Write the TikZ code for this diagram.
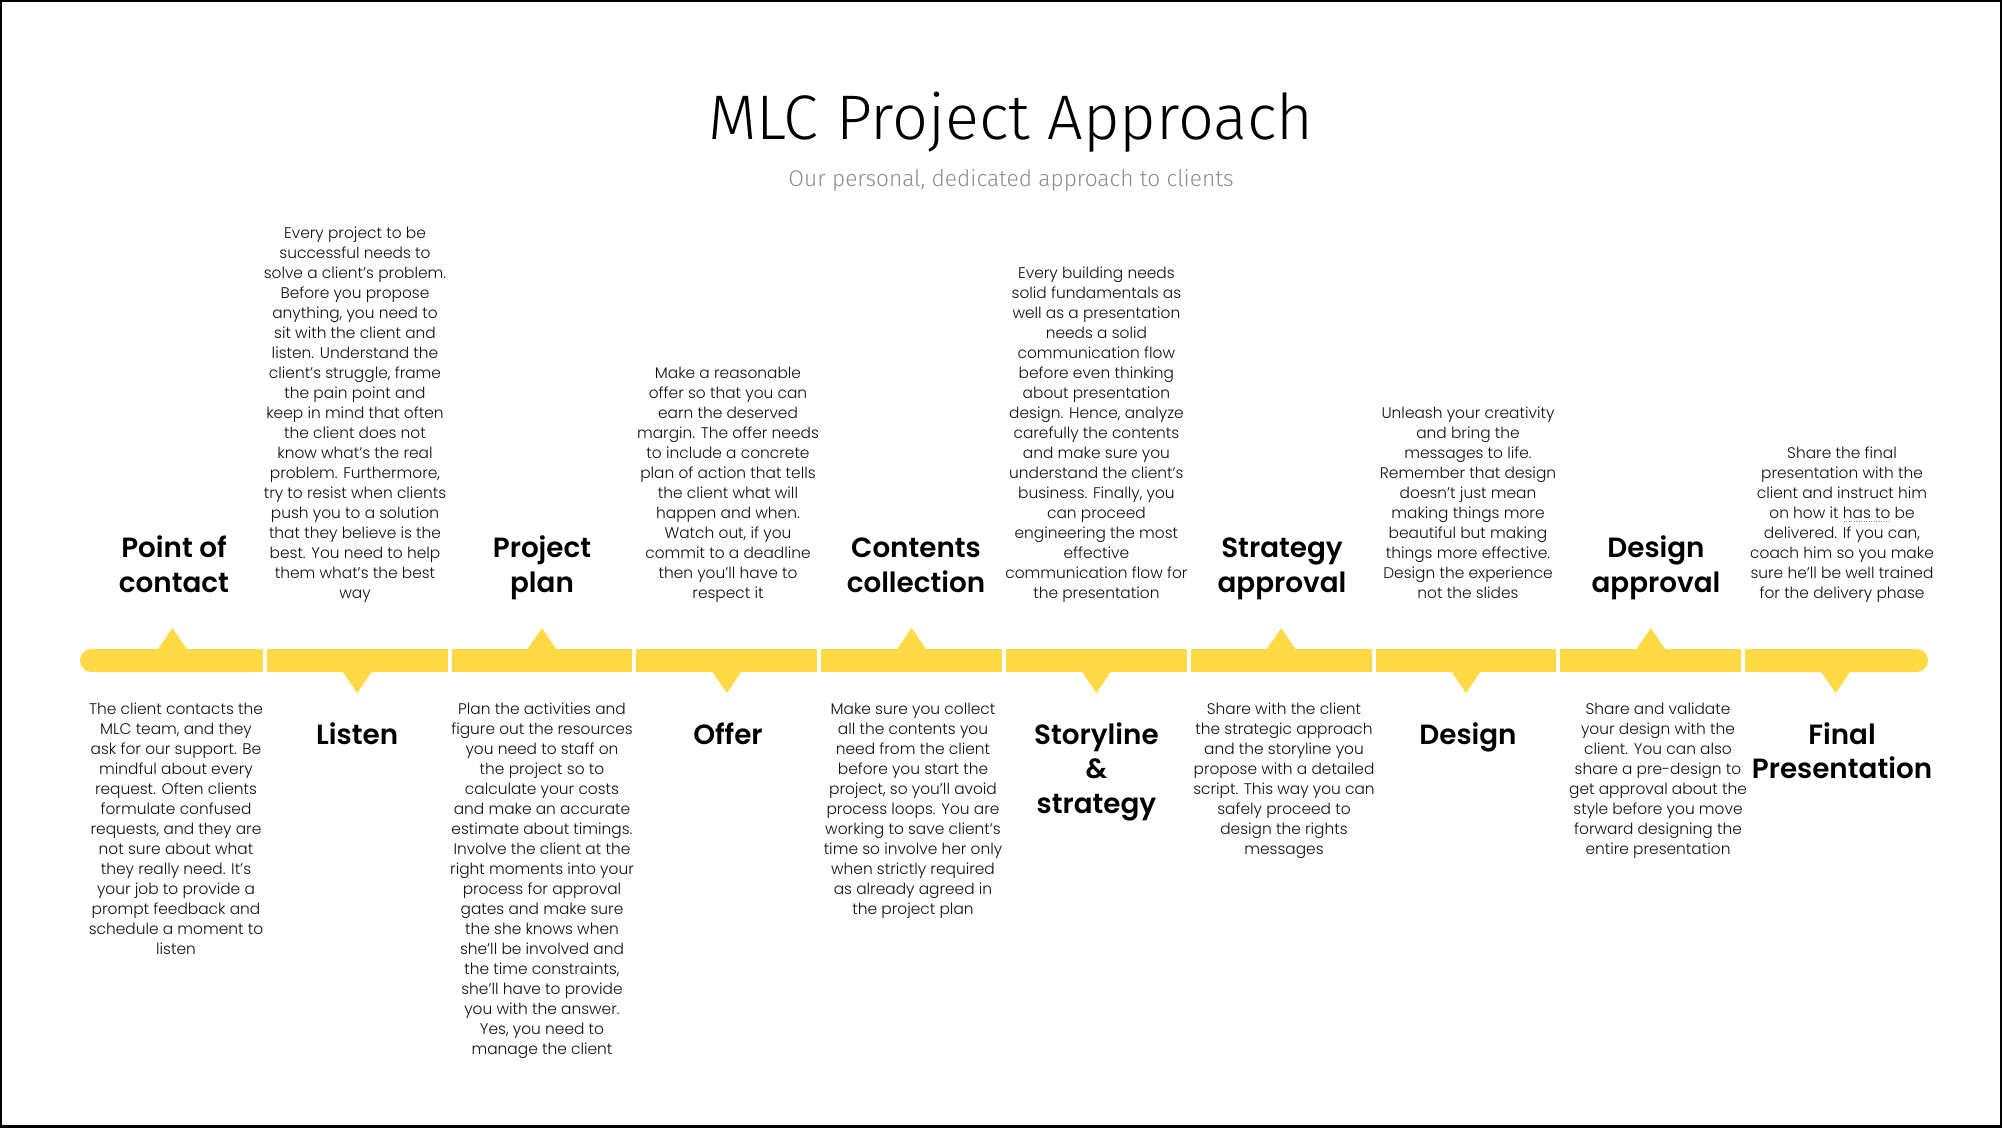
\documentclass[tikz,border=0pt]{standalone}
\usepackage{fontspec}
\usepackage{tikz}

\IfFontExistsTF{Poppins Light}{\newfontfamily\bodyfont{Poppins Light}}{\newfontfamily\bodyfont{Poppins}}
\IfFontExistsTF{Poppins SemiBold}{\newfontfamily\headfont{Poppins SemiBold}}{\newfontfamily\headfont{Poppins}[UprightFont=*,UprightFeatures={FakeBold=1.5}]}
\IfFontExistsTF{Fira Sans Light}{\newfontfamily\titlefont{Fira Sans Light}}{\IfFontExistsTF{Lato Light}{\newfontfamily\titlefont{Lato Light}}{\newfontfamily\titlefont{Fira Sans}}}

\definecolor{barYellow}{HTML}{FFDA45}
\definecolor{subGray}{HTML}{8C8C8C}
\definecolor{bodyGray}{HTML}{111111}

% dotted underline
\newcommand\dotsunder[1]{\setbox0=\hbox{#1}\rlap{\color{subGray}\xleaders\hbox to 2.5pt{\hss\rule[-3pt]{1pt}{1pt}\hss}\hskip\wd0}\copy0\relax}

\begin{document}
\begin{tikzpicture}[x=1pt,y=-1pt,
  bar/.style={fill=barYellow},
  headup/.style={font=\headfont\fontsize{27.8}{34.5}\selectfont,align=center,inner sep=0pt,anchor=south},
  headdown/.style={font=\headfont\fontsize{27.8}{34.5}\selectfont,align=center,inner sep=0pt,anchor=north},
  textup/.style={font=\bodyfont\fontsize{15.4}{20}\selectfont,text=bodyGray,align=center,inner sep=0pt,anchor=south},
  textdown/.style={font=\bodyfont\fontsize{15.4}{20}\selectfont,text=bodyGray,align=center,inner sep=0pt,anchor=north}]
 \useasboundingbox (0,0) rectangle (2002,1127);
 \fill[white] (0,0) rectangle (2002,1127);
 \draw[line width=4pt] (0,0) rectangle (2002,1127);
 % title
 \draw (1011,139) node[anchor=base,font=\titlefont\fontsize{63}{72}\selectfont] (title) {MLC Project Approach};
 \draw (1011,186) node[anchor=base,font=\titlefont\fontsize{22.7}{28}\selectfont,text=subGray] (subtitle) {Our personal, dedicated approach to clients};
 % timeline bar
 \fill[bar,rounded corners=11.5pt] (80,649) rectangle (262.8,672);
 \fill[bar] (130,649) rectangle (262.8,672);
 \fill[bar] (266.8,649) rectangle (447.6,672);
 \fill[bar] (451.6,649) rectangle (632.4,672);
 \fill[bar] (636.4,649) rectangle (817.2,672);
 \fill[bar] (821.2,649) rectangle (1002,672);
 \fill[bar] (1006,649) rectangle (1186.8,672);
 \fill[bar] (1190.8,649) rectangle (1371.6,672);
 \fill[bar] (1375.6,649) rectangle (1556.4,672);
 \fill[bar] (1560.4,649) rectangle (1741.2,672);
 \fill[bar,rounded corners=11.5pt] (1745.2,649) rectangle (1928,672);
 \fill[bar] (1745.2,649) rectangle (1880,672);
 % markers
 \fill[bar] (157.4,650) -- (172.4,628) -- (187.4,650) -- cycle;
 \fill[bar] (342.2,671) -- (357.2,693) -- (372.2,671) -- cycle;
 \fill[bar] (527,650) -- (542,628) -- (557,650) -- cycle;
 \fill[bar] (711.8,671) -- (726.8,693) -- (741.8,671) -- cycle;
 \fill[bar] (896.6,650) -- (911.6,628) -- (926.6,650) -- cycle;
 \fill[bar] (1081.4,671) -- (1096.4,693) -- (1111.4,671) -- cycle;
 \fill[bar] (1266.2,650) -- (1281.2,628) -- (1296.2,650) -- cycle;
 \fill[bar] (1451,671) -- (1466,693) -- (1481,671) -- cycle;
 \fill[bar] (1635.8,650) -- (1650.8,628) -- (1665.8,650) -- cycle;
 \fill[bar] (1820.6,671) -- (1835.6,693) -- (1850.6,671) -- cycle;
 % step titles
 \draw (174,603) node[headup] (contact) {Point of\\contact\strut};
 \draw (357.2,720) node[headdown] (listen) {\strut Listen};
 \draw (542,603) node[headup] (plan) {Project\\plan\strut};
 \draw (728,720) node[headdown] (offer) {\strut Offer};
 \draw (916,603) node[headup] (contents) {Contents\\collection\strut};
 \draw (1096.4,720) node[headdown] (storyline) {\strut Storyline\\\&\\strategy};
 \draw (1282,603) node[headup] (strategy) {Strategy\\approval\strut};
 \draw (1468,720) node[headdown] (design) {\strut Design};
 \draw (1656,603) node[headup] (approval) {Design\\approval\strut};
 \draw (1842,720) node[headdown] (final) {\strut Final\\Presentation};
 % descriptions
 \draw (176,700) node[textdown] (contactText) {\strut The client contacts the\\MLC team, and they\\ask for our support. Be\\mindful about every\\request. Often clients\\formulate confused\\requests, and they are\\not sure about what\\they really need. It’s\\your job to provide a\\prompt feedback and\\schedule a moment to\\listen};
 \draw (355,605) node[textup] (listenText) {Every project to be\\successful needs to\\solve a client’s problem.\\Before you propose\\anything, you need to\\sit with the client and\\listen. Understand the\\client’s struggle, frame\\the pain point and\\keep in mind that often\\the client does not\\know what’s the real\\problem. Furthermore,\\try to resist when clients\\push you to a solution\\that they believe is the\\best. You need to help\\them what’s the best\\way\strut};
 \draw (542,700) node[textdown] (planText) {\strut Plan the activities and\\figure out the resources\\you need to staff on\\the project so to\\calculate your costs\\and make an accurate\\estimate about timings.\\Involve the client at the\\right moments into your\\process for approval\\gates and make sure\\the she knows when\\she’ll be involved and\\the time constraints,\\she’ll have to provide\\you with the answer.\\Yes, you need to\\manage the client};
 \draw (728,605) node[textup] (offerText) {Make a reasonable\\offer so that you can\\earn the deserved\\margin. The offer needs\\to include a concrete\\plan of action that tells\\the client what will\\happen and when.\\Watch out, if you\\commit to a deadline\\then you’ll have to\\respect it\strut};
 \draw (913,700) node[textdown] (contentsText) {\strut Make sure you collect\\all the contents you\\need from the client\\before you start the\\project, so you’ll avoid\\process loops. You are\\working to save client’s\\time so involve her only\\when strictly required\\as already agreed in\\the project plan};
 \draw (1096.4,605) node[textup] (storylineText) {Every building needs\\solid fundamentals as\\well as a presentation\\needs a solid\\communication flow\\before even thinking\\about presentation\\design. Hence, analyze\\carefully the contents\\and make sure you\\understand the client’s\\business. Finally, you\\can proceed\\engineering the most\\effective\\communication flow for\\the presentation\strut};
 \draw (1284,700) node[textdown] (strategyText) {\strut Share with the client\\the strategic approach\\and the storyline you\\propose with a detailed\\script. This way you can\\safely proceed to\\design the rights\\messages};
 \draw (1468,605) node[textup] (designText) {Unleash your creativity\\and bring the\\messages to life.\\Remember that design\\doesn’t just mean\\making things more\\beautiful but making\\things more effective.\\Design the experience\\not the slides\strut};
 \draw (1658,700) node[textdown] (approvalText) {\strut Share and validate\\your design with the\\client. You can also\\share a pre-design to\\get approval about the\\style before you move\\forward designing the\\entire presentation};
 \draw (1842,605) node[textup] (finalText) {Share the final\\presentation with the\\client and instruct him\\on how it \dotsunder{has to} be\\delivered. If you can,\\coach him so you make\\sure he’ll be well trained\\for the delivery phase\strut};
\end{tikzpicture}
\end{document}
